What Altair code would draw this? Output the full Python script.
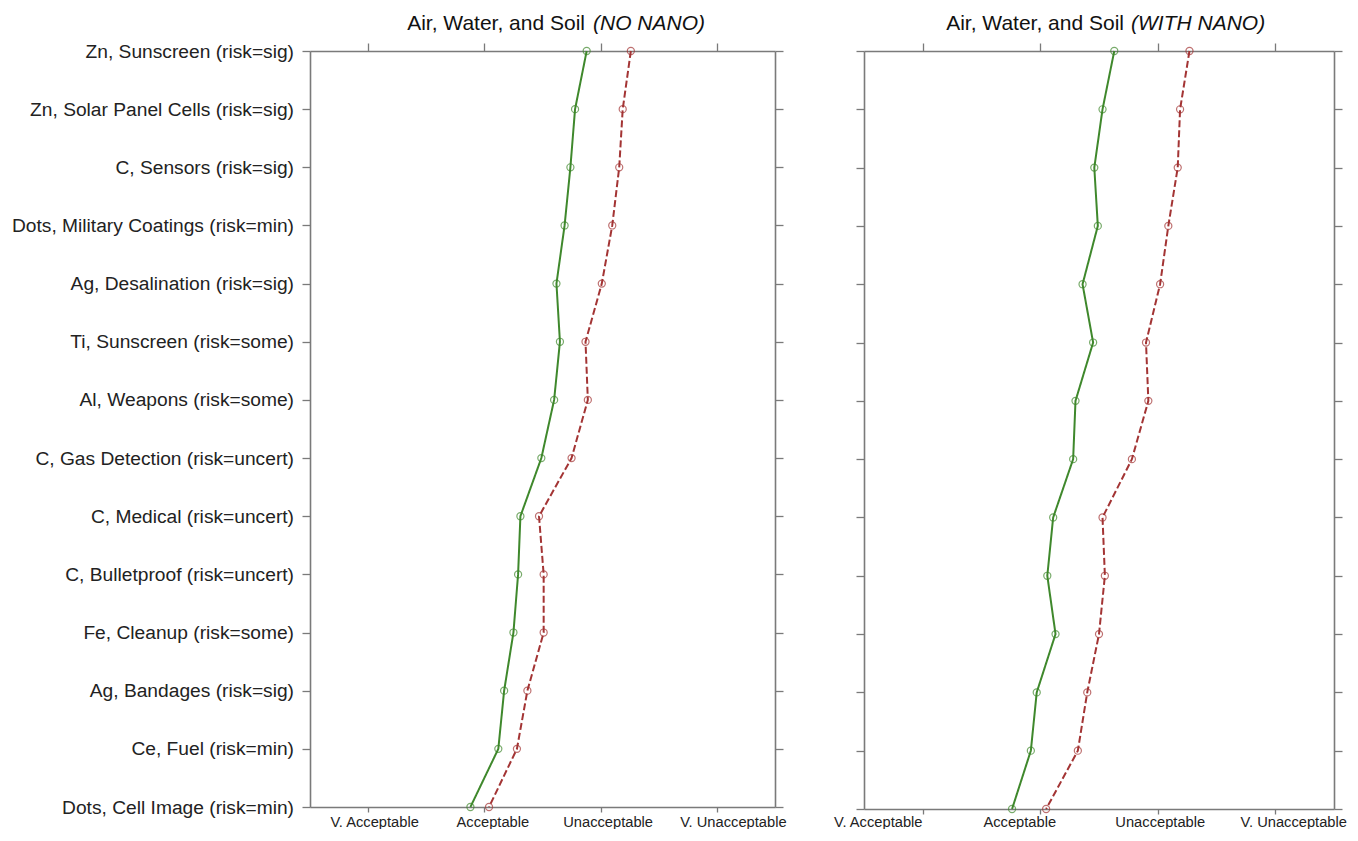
import json
import altair as alt
import pandas as pd

items = [
    "Zn, Sunscreen (risk=sig)",
    "Zn, Solar Panel Cells (risk=sig)",
    "C, Sensors (risk=sig)",
    "Dots, Military Coatings (risk=min)",
    "Ag, Desalination (risk=sig)",
    "Ti, Sunscreen (risk=some)",
    "Al, Weapons (risk=some)",
    "C, Gas Detection (risk=uncert)",
    "C, Medical (risk=uncert)",
    "C, Bulletproof (risk=uncert)",
    "Fe, Cleanup (risk=some)",
    "Ag, Bandages (risk=sig)",
    "Ce, Fuel (risk=min)",
    "Dots, Cell Image (risk=min)",
]

no_nano_green = [2.88, 2.78, 2.74, 2.69, 2.62, 2.65, 2.60, 2.49, 2.31, 2.29, 2.25, 2.17, 2.12, 1.88]
no_nano_red = [3.26, 3.19, 3.16, 3.10, 3.01, 2.87, 2.89, 2.75, 2.47, 2.51, 2.51, 2.37, 2.28, 2.04]
with_nano_green = [2.63, 2.53, 2.46, 2.49, 2.36, 2.45, 2.30, 2.28, 2.11, 2.06, 2.13, 1.97, 1.92, 1.76]
with_nano_red = [3.27, 3.19, 3.17, 3.09, 3.02, 2.90, 2.92, 2.78, 2.53, 2.55, 2.50, 2.40, 2.32, 2.05]

series = ["Series A", "Series B"]
x_ticks = [1, 2, 3, 4]
x_labels = ["V. Acceptable", "Acceptable", "Unacceptable", "V. Unacceptable"]

title_main = "Air, Water, and Soil"
title_left_em = "(NO NANO)"
title_right_em = "(WITH NANO)"

GREEN = "#3f882c"
RED = "#a33434"
FRAME = "#7a7a7a"
FONT = "Liberation Sans"


def make_panel(green, red, width, height, title_em, split_x, offsets, show_labels, xpad):
    rows = []
    for s, vals in ((series[0], green), (series[1], red)):
        for i, (it, v) in enumerate(zip(items, vals)):
            rows.append({"item": it, "idx": i, "series": s, "value": v})
    df = pd.DataFrame(rows)

    xs = alt.Scale(domain=[0.5, 4.5], nice=False, zero=False)
    ys = alt.Scale(type="point", padding=0, domain=items)
    color = alt.Color("series:N", scale=alt.Scale(domain=series, range=[GREEN, RED]), legend=None)
    dash = alt.StrokeDash("series:N", scale=alt.Scale(domain=series, range=[[1, 0], [7, 3]]), legend=None)

    common = dict(domainColor=FRAME, domainWidth=1.6, tickColor=FRAME, tickWidth=1.3,
                  grid=False, title=None)
    x_bottom = alt.Axis(orient="bottom", values=x_ticks, tickSize=5,
                        labelExpr=json.dumps(x_labels) + "[datum.value - 1]",
                        labelOffset={"expr": json.dumps(offsets) + "[datum.value - 1]"},
                        labelFont=FONT, labelFontSize=14.7, labelColor="#222",
                        labelPadding=xpad, labelFlush=False, labelOverlap=False, **common)
    x_top = alt.Axis(orient="top", values=x_ticks, labels=False, tickSize=8, **common)
    if show_labels:
        y_left = alt.Axis(orient="left", labelFont=FONT, labelFontSize=19.2, labelColor="#222",
                          labelPadding=8.5, labelLimit=500, tickSize=8, **common)
    else:
        y_left = alt.Axis(orient="left", labels=False, minExtent=8, maxExtent=8, tickSize=8, **common)
    y_right = alt.Axis(orient="right", labels=False, minExtent=8, maxExtent=8, tickSize=8, **common)

    base = alt.Chart(df)
    lines = base.mark_line(strokeWidth=2).encode(
        x=alt.X("value:Q", scale=xs, axis=x_bottom),
        y=alt.Y("item:N", scale=ys, sort=items, axis=y_left),
        color=color,
        strokeDash=dash,
        order="idx:Q",
    )
    pts = base.mark_point(filled=False, size=50, strokeWidth=1.2).encode(
        x=alt.X("value:Q", scale=xs, axis=x_top),
        y=alt.Y("item:N", scale=ys, sort=items, axis=y_right),
        color=color,
    )
    t1 = alt.Chart(pd.DataFrame({"t": [title_main]})).mark_text(
        align="right", baseline="alphabetic", font=FONT, fontSize=21, color="#111"
    ).encode(x=alt.value(split_x[0]), y=alt.value(-21.5), text="t:N")
    t2 = alt.Chart(pd.DataFrame({"t": [title_em]})).mark_text(
        align="left", baseline="alphabetic", font=FONT, fontSize=21, fontStyle="italic", color="#111"
    ).encode(x=alt.value(split_x[1]), y=alt.value(-21.5), text="t:N")

    return alt.layer(lines, pts, t1, t2).resolve_axis(
        x="independent", y="independent"
    ).properties(width=width, height=height)


left = make_panel(no_nano_green, no_nano_red, 465, 756, title_left_em, (275, 283),
                  [6, 8, 7, 16], True, 2)
right = make_panel(with_nano_green, with_nano_red, 470, 758, title_right_em, (260, 267),
                   [-45, -21, 2, 18], False, 0)

chart = alt.hconcat(left, right, spacing=89, bounds="flush").properties(
    padding={"left": 3, "top": 4, "right": 0, "bottom": 0}
).configure_view(stroke=None)

chart.save("out.html", embed_options={"renderer": "svg", "actions": False})
